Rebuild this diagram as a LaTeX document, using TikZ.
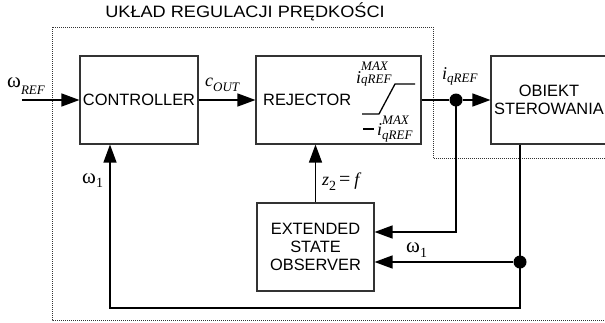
\documentclass[tikz,border=0pt]{standalone}
\usepackage{fontspec}
\setmainfont{Liberation Sans}
\newfontfamily\tms{Liberation Serif}
\usetikzlibrary{arrows.meta}
\newcommand\mbx[1]{{\tms\itshape\fontsize{18}{18}\selectfont #1}}
\newcommand\sbx[1]{{\tms\itshape\fontsize{13}{13}\selectfont #1}}
\newcommand\nbx[1]{{\tms\fontsize{14}{14}\selectfont #1}}
\newcommand\gbx[1]{{\tms\fontsize{21}{21}\selectfont #1}}
\newcommand\lowr[2]{\raisebox{-#1}{#2}}
\begin{document}
\begin{tikzpicture}[x=1pt,y=-1pt,
  blk/.style={draw=black!80, line width=1.1pt, minimum height=88pt, inner sep=0pt,
    font=\fontsize{16.4}{18.3}\selectfont, align=center},
  con/.style={line width=1.4pt},
  arr/.style={con, -{Triangle[length=18pt,width=13pt]}},
  lbl/.style={inner sep=0pt, anchor=base west},
  jdot/.style={circle, fill, inner sep=0pt, minimum size=13pt},
  frame/.style={black!80, line width=1pt, dash pattern=on 1pt off 1pt},
  ]
\useasboundingbox (0,0) rectangle (605,322);
% title and dotted frame
\node[font=\fontsize{16.5}{18}\selectfont] (title) at (245,11.5)
  {\scalebox{1.1}[1]{UKŁAD REGULACJI PRĘDKOŚCI}};
\draw[frame] (605,158) -- (433,158) -- (433,27) -- (52,27) -- (52,320) -- (605,320);
% blocks
\node[blk, minimum width=118pt] (ctrl) at (139,100) {CONTROLLER};
\node[blk, minimum width=165pt] (rej) at (338.5,100) {};
\node[anchor=west, inner sep=0pt, font=\fontsize{16.4}{18}\selectfont] (rejt) at (263,100) {REJECTOR};
\node[blk, minimum width=116pt] (obj) at (549,100) {OBIEKT\\STEROWANIA};
\node[blk, minimum width=117pt] (eso) at (315.5,247) {EXTENDED\\STATE\\OBSERVER};
% saturation symbol
\draw[line width=1.3pt] (362,114) -- (379,114) -- (395,84) -- (415,84);
\node[lbl] (imaxu) at (356,83)
  {\mbx{i}\rlap{\raisebox{13pt}{\sbx{MAX}}}\sbx{qREF}};
\node[lbl] (imaxl) at (363,135)
  {\rule[5pt]{11pt}{1.8pt}\mbx{\,i}\rlap{\raisebox{11pt}{\sbx{MAX}}}\lowr{4pt}{\sbx{qREF}}};
% connectors
\coordinate (in) at (22,100);
\draw[arr] (in) -- (ctrl);
\draw[arr] (ctrl) -- (rej);
\node[jdot] (d1) at (456,100) {};
\draw[con] (rej.east) -- (d1);
\draw[arr] (d1) -- (obj.west);
\draw[arr] (d1.center) |- ([yshift=15pt]eso.east);
\coordinate (ob) at ([xshift=-29pt]obj.south);
\coordinate (br) at (520,308);
\node[jdot] (d2) at (520,262) {};
\draw[arr] (ob) -- (br) -| ([xshift=-29pt]ctrl.south);
\draw[arr] (d2) -- ([yshift=-15pt]eso.east);
\draw[arr] (eso.north) -- (eso.north |- rej.south);
% labels
\node[lbl] (lwref) at (7,87) {\gbx{ω}\lowr{7pt}{\sbx{REF}}};
\node[lbl] (lcout) at (205,86) {\mbx{c}\lowr{5pt}{\sbx{OUT}}};
\node[lbl] (liq) at (442,79) {\mbx{i}\lowr{3pt}{\sbx{qREF}}};
\node[lbl] (lz) at (322,185) {\mbx{z}\lowr{5pt}{\nbx{2}}\hspace{3pt}{\tms\fontsize{20}{20}\selectfont =}\hspace{4pt}\mbx{f}};
\node[lbl] (lw1a) at (82,183) {\gbx{ω}\lowr{4pt}{\nbx{1}}};
\node[lbl] (lw1b) at (406,252) {\gbx{ω}\lowr{5pt}{\nbx{1}}};
\end{tikzpicture}
\end{document}
